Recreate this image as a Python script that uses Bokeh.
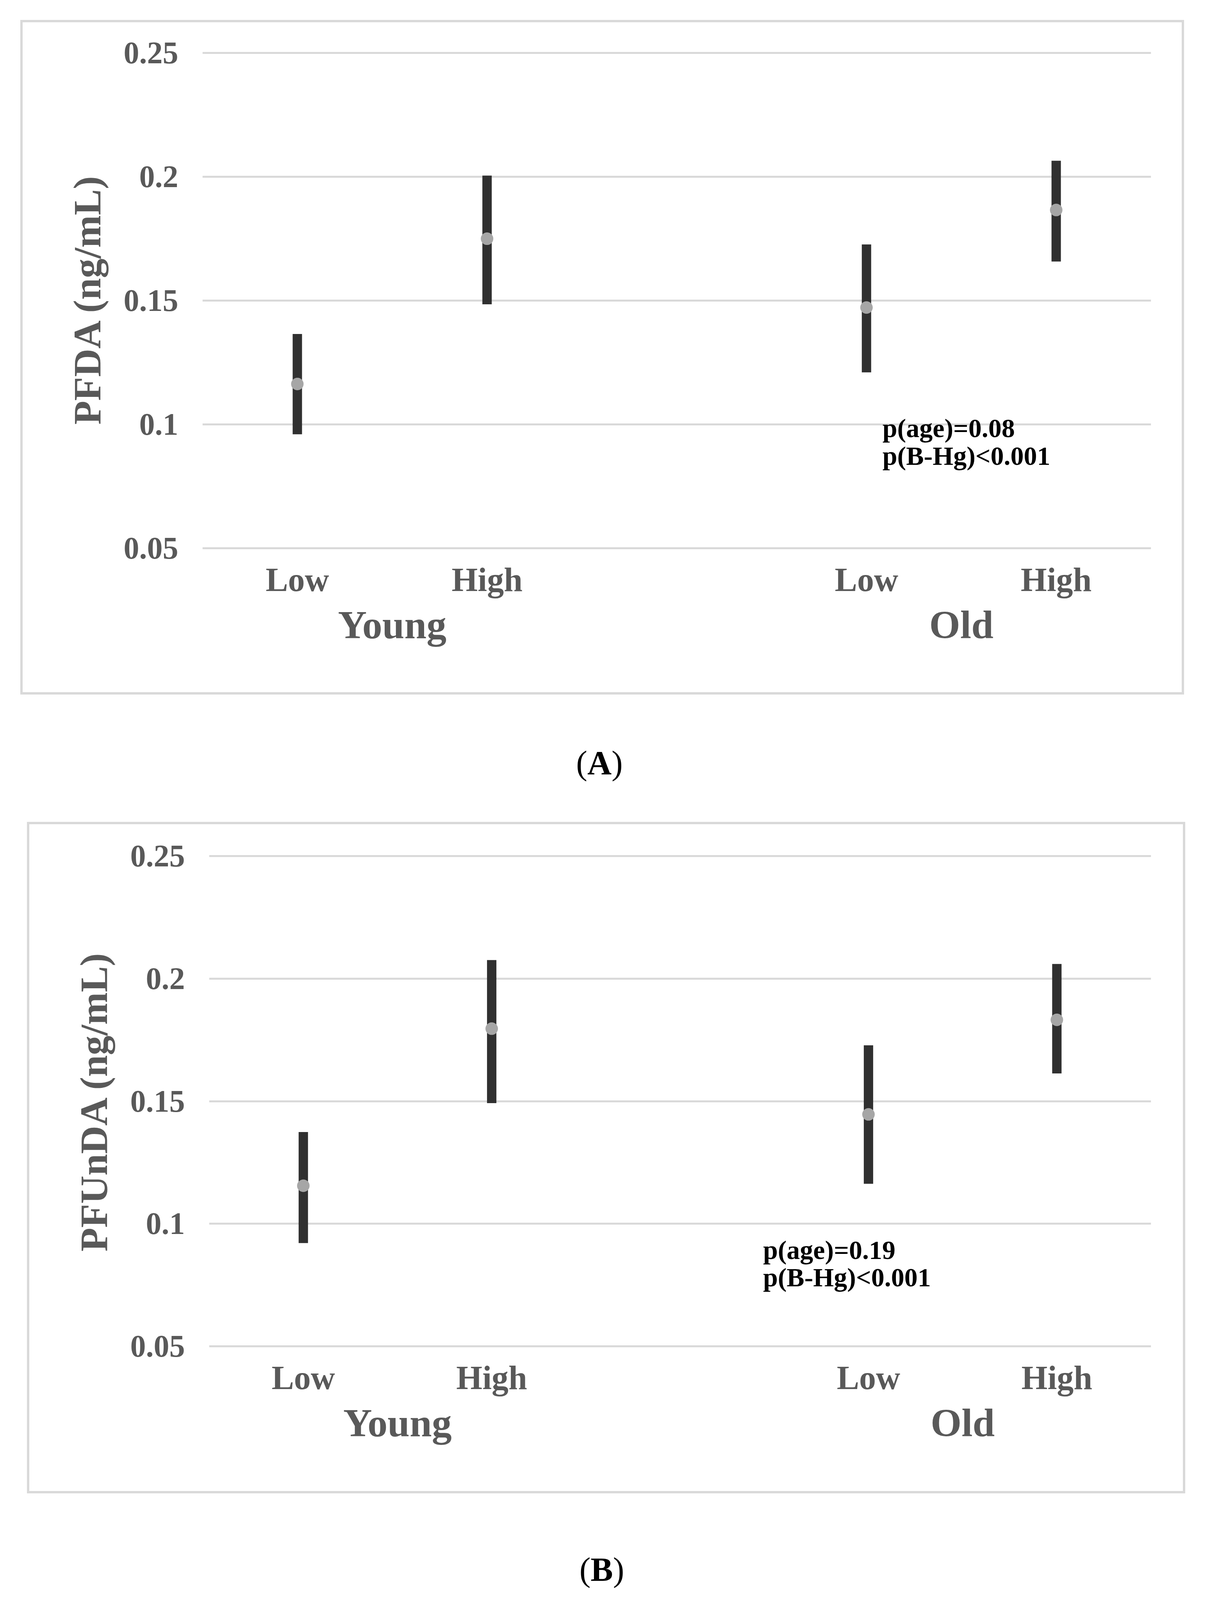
from bokeh.plotting import figure
from bokeh.models import (FactorRange, Range1d, FixedTicker, ColumnDataSource,
                          Div)
from bokeh.layouts import column, row
from bokeh.core.properties import value
from bokeh.embed import file_html
from bokeh.resources import INLINE

# ---------------- data ----------------
groups = ["Young", "Young", "Old", "Old"]
levels = ["Low", "High", "Low", "High"]
y_ticks = [0.05, 0.10, 0.15, 0.20, 0.25]
y_tick_labels = ["0.05", "0.1", "0.15", "0.2", "0.25"]

pfda_mean = [0.1163, 0.1750, 0.1472, 0.1866]
pfda_low = [0.0960, 0.1485, 0.1210, 0.1658]
pfda_high = [0.1365, 0.2005, 0.1727, 0.2065]
pfda_notes = ["p(age)=0.08", "p(B-Hg)<0.001"]

pfunda_mean = [0.1155, 0.1796, 0.1446, 0.1832]
pfunda_low = [0.0921, 0.1492, 0.1163, 0.1613]
pfunda_high = [0.1374, 0.2076, 0.1728, 0.2060]
pfunda_notes = ["p(age)=0.19", "p(B-Hg)<0.001"]

FONT = "Liberation Serif"
AXIS_GREY = "#595959"
GRID_GREY = "#d9d9d9"
BAR_COLOR = "#303030"
DOT_COLOR = "#a6a6a6"
TITLE_W = 245


def make_panel(ylabel, mean, low, high, notes, note_anchor, note_dx, note_ys,
               width, height, borders, margin, title_pad_top):
    factors = list(zip(groups, levels))
    src = ColumnDataSource(dict(x=factors, mean=mean, low=low, high=high))
    bl, br, bt, bb = borders
    p = figure(
        x_range=FactorRange(factors=factors, group_padding=1.0,
                            range_padding=0.0),
        y_range=Range1d(0.049, 0.251),
        width=width - TITLE_W, height=height,
        output_backend="svg", toolbar_location=None,
        min_border_left=bl - TITLE_W, min_border_right=br,
        min_border_top=bt, min_border_bottom=bb,
    )
    p.background_fill_color = "white"
    p.border_fill_color = "white"
    p.outline_line_color = None

    # grid
    p.xgrid.grid_line_color = None
    p.ygrid.grid_line_color = GRID_GREY
    p.ygrid.grid_line_width = 5

    # y axis
    yax = p.yaxis[0]
    yax.ticker = FixedTicker(ticks=y_ticks)
    yax.major_label_overrides = {t: s for t, s in zip(y_ticks, y_tick_labels)}
    yax.axis_line_color = None
    yax.major_tick_line_color = None
    yax.minor_tick_line_color = None
    yax.major_tick_out = 0
    yax.minor_tick_out = 0
    yax.major_label_text_font = FONT
    yax.major_label_text_font_size = "80px"
    yax.major_label_text_font_style = "bold"
    yax.major_label_text_color = AXIS_GREY
    yax.major_label_standoff = 62

    # x axis (nested categories)
    xax = p.xaxis[0]
    xax.axis_line_color = None
    xax.major_tick_line_color = None
    xax.major_tick_out = 18
    xax.separator_line_alpha = 0
    xax.major_label_text_font = FONT
    xax.major_label_text_font_size = "86px"
    xax.major_label_text_font_style = "bold"
    xax.major_label_text_color = AXIS_GREY
    xax.major_label_standoff = 8
    xax.group_text_font = FONT
    xax.group_text_font_size = "102px"
    xax.group_text_font_style = "bold"
    xax.group_text_color = AXIS_GREY

    # error bars and means
    p.segment(x0="x", y0="low", x1="x", y1="high", source=src,
              line_color=BAR_COLOR, line_width=24, line_cap="butt")
    p.scatter(x="x", y="mean", source=src, size=32, marker="circle",
              fill_color=DOT_COLOR, line_color=None)

    # p-value notes
    nsrc = ColumnDataSource(dict(x=[note_anchor] * len(notes), y=note_ys,
                                 text=notes))
    p.text(x="x", y="y", text="text", source=nsrc, x_offset=note_dx,
           text_font=value(FONT), text_font_size="68px",
           text_font_style="bold", text_color="black",
           text_baseline="alphabetic", text_align="left")

    # vertical y-axis title (HTML text, reads bottom-to-top)
    ytitle = Div(text=ylabel, width=TITLE_W, height=height,
                 styles={"writing-mode": "vertical-rl",
                         "transform": "rotate(180deg)",
                         "text-align": "center",
                         "line-height": "120px",
                         "white-space": "nowrap",
                         "font-family": FONT, "font-size": "100px",
                         "font-weight": "bold", "color": AXIS_GREY,
                         "box-sizing": "border-box",
                         "padding-right": "101px",
                         "padding-top": "%dpx" % title_pad_top})

    box = row(ytitle, p, spacing=0, margin=margin,
              styles={"border": "6px solid " + GRID_GREY,
                      "box-sizing": "content-box",
                      "background-color": "white"})
    return box


boxA = make_panel("PFDA (ng/mL)", pfda_mean, pfda_low, pfda_high,
                  pfda_notes, ("Old", "Low"), 41, [0.0985, 0.0872],
                  width=2958, height=1705, borders=(450, 79, 72, 353),
                  margin=(51, 0, 0, 52), title_pad_top=291)

capA = Div(text="(<b>A</b>)", width=3070, height=100,
           margin=(125, 0, 0, 0),
           styles={"font-family": FONT, "font-size": "86px",
                   "text-align": "center", "line-height": "100px",
                   "color": "black"})

boxB = make_panel("PFUnDA (ng/mL)", pfunda_mean, pfunda_low, pfunda_high,
                  pfunda_notes, ("Old", "Low"), -270, [0.0892, 0.0781],
                  width=2944, height=1697, borders=(450, 82, 75, 355),
                  margin=(101, 0, 0, 69), title_pad_top=283)

capB = Div(text="(<b>B</b>)", width=3082, height=100,
           margin=(145, 0, 0, 0),
           styles={"font-family": FONT, "font-size": "86px",
                   "text-align": "center", "line-height": "100px",
                   "color": "black"})

layout = column(boxA, capA, boxB, capB, spacing=0)

open("out.html", "w").write(file_html(layout, INLINE))
